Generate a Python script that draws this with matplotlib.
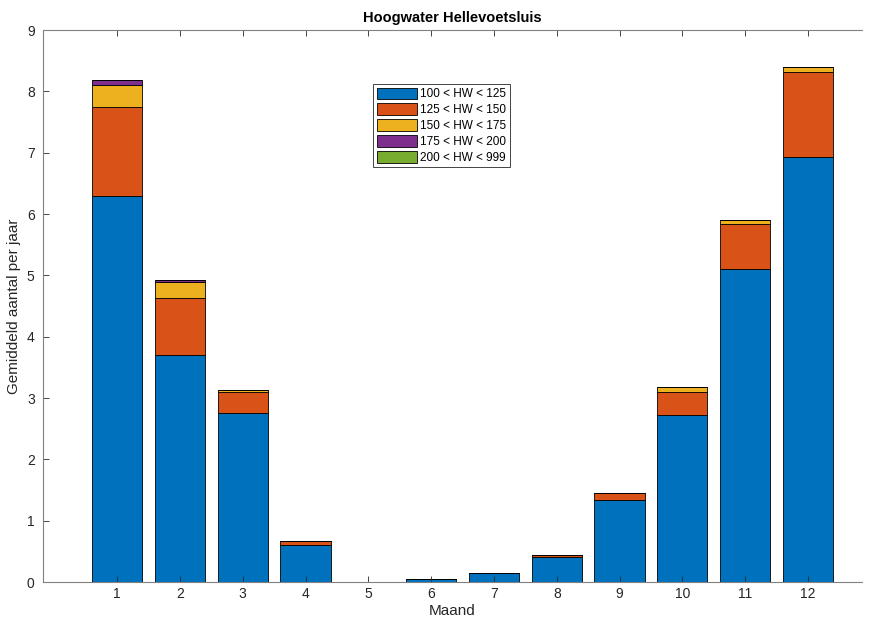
import numpy as np
import matplotlib.pyplot as plt

plt.rcParams['font.family'] = ['Liberation Sans', 'DejaVu Sans']

# Data: gemiddeld aantal hoogwaters per jaar per maand
maanden = np.arange(1, 13)
hw_100_125 = [6.30, 3.70, 2.75, 0.60, 0.00, 0.05, 0.15, 0.41, 1.34, 2.72, 5.11, 6.93]
hw_125_150 = [1.44, 0.93, 0.34, 0.07, 0.00, 0.00, 0.00, 0.03, 0.11, 0.37, 0.72, 1.38]
hw_150_175 = [0.37, 0.26, 0.04, 0.00, 0.00, 0.00, 0.00, 0.00, 0.00, 0.09, 0.08, 0.08]
hw_175_200 = [0.07, 0.03, 0.00, 0.00, 0.00, 0.00, 0.00, 0.00, 0.00, 0.00, 0.00, 0.00]
hw_200_999 = [0.00, 0.00, 0.00, 0.00, 0.00, 0.00, 0.00, 0.00, 0.00, 0.00, 0.00, 0.00]

labels = ['100 < HW < 125', '125 < HW < 150', '150 < HW < 175',
          '175 < HW < 200', '200 < HW < 999']
colors = ['#0072BD', '#D95319', '#EDB120', '#7E2F8E', '#77AC30']
series = [hw_100_125, hw_125_150, hw_150_175, hw_175_200, hw_200_999]

fig = plt.figure(figsize=(8.71, 6.24), dpi=100)
ax = fig.add_axes([43 / 871, 42 / 624, 819 / 871, 552 / 624])

bottom = np.zeros(12)
for vals, lab, col in zip(series, labels, colors):
    ax.bar(maanden, vals, width=0.8, bottom=bottom, color=col,
           edgecolor='black', linewidth=0.6, label=lab)
    bottom += np.array(vals)

ax.set_xlim(-0.18, 12.86)
ax.set_ylim(0, 9)
ax.set_xticks(maanden)
ax.set_yticks(range(10))

gray = '#262626'
for s in ['left', 'bottom', 'top']:
    ax.spines[s].set_color('#808080')
    ax.spines[s].set_linewidth(0.8)
ax.spines['right'].set_visible(False)
ax.tick_params(direction='in', length=4, width=0.6, color=gray,
               labelcolor=gray, labelsize=10, top=True)
ax.tick_params(axis='y', pad=6)

ax.set_xlabel('Maand', fontsize=11, color=gray, labelpad=2)
ax.set_ylabel('Gemiddeld aantal per jaar', fontsize=11, color=gray, labelpad=4)
ax.set_title('Hoogwater Hellevoetsluis', fontsize=10.5, fontweight='bold', pad=6)

leg = ax.legend(loc='upper left', bbox_to_anchor=(0.403, 0.902), fontsize=8.5,
                fancybox=False, edgecolor='#262626', framealpha=1,
                handlelength=3.4, handleheight=1.15, handletextpad=0.3,
                labelspacing=0.25, borderpad=0.3, borderaxespad=0)
leg.get_frame().set_linewidth(0.6)

plt.savefig('out.png', dpi=100)
